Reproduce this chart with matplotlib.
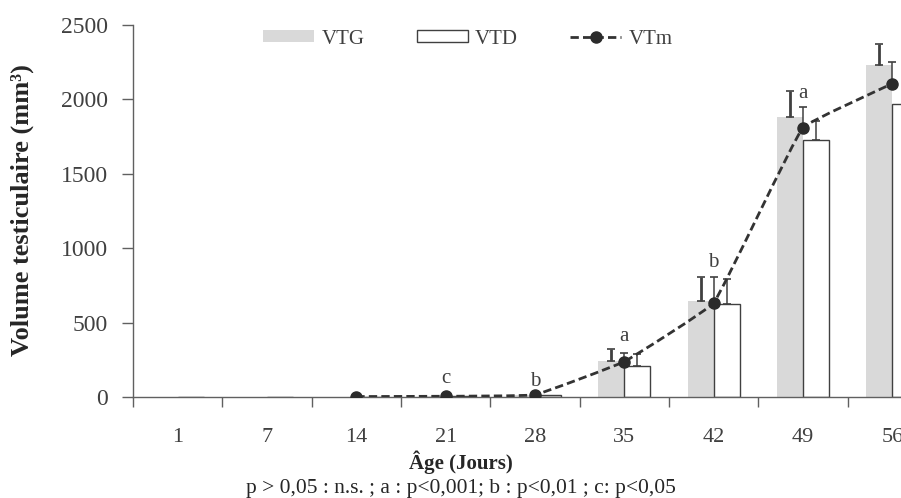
import numpy as np
import matplotlib
matplotlib.use("Agg")
import matplotlib.pyplot as plt
from matplotlib.path import Path
from matplotlib.patches import PathPatch, Patch
from matplotlib.lines import Line2D

plt.rcParams['font.family'] = ['Liberation Serif', 'DejaVu Serif']

# Age in days and testicular volumes (mm3)
days = ['1', '7', '14', '21', '28', '35', '42', '49', '56']
vtg = [0, 0, 2, 4, 12, 245, 648, 1884, 2234]
vtg_err = [np.nan, np.nan, np.nan, np.nan, np.nan, 78, 160, 175, 135]
vtd = [0, 0, 2, 4, 14, 208, 626, 1729, 1972]
vtd_err = [np.nan, np.nan, np.nan, np.nan, np.nan, 82, 168, 128, 130]
vtm = [np.nan, np.nan, 3, 5, 15, 238, 633, 1810, 2106]
vtm_err = [np.nan, np.nan, np.nan, np.nan, np.nan, 60, 174, 142, 142]
sig = ['', '', '', 'c', 'b', 'a', 'b', 'a', '']
sig_y = [0, 0, 0, 121, 101, 404, 901, 2039, 0]

grey_txt = '#404040'
W, H = 901, 498
fig = plt.figure(figsize=(W / 100, H / 100), dpi=100)
ax = fig.add_axes([133 / W, 101 / H, 804 / W, 372 / H])
ax.set_xlim(-0.5, 8.5)
ax.set_ylim(0, 2500)

x = np.arange(len(days))
bw = 0.29
ax.bar(x - bw / 2, vtg, bw, color='#d9d9d9', zorder=2)
ax.bar(x + bw / 2, vtd, bw, color='white', edgecolor='#404040', linewidth=1, zorder=2)


def up_err(xpos, yval, err, lw):
    xpos, yval, err = np.asarray(xpos, float), np.asarray(yval, float), np.asarray(err, float)
    m = ~np.isnan(err) & ~np.isnan(yval)
    ax.errorbar(xpos[m], yval[m], yerr=[np.zeros(m.sum()), err[m]], fmt='none', ecolor='#404040',
                elinewidth=lw, capsize=3, capthick=1.2, zorder=3)


up_err(x - bw / 2, vtg, vtg_err, 2)
up_err(x + bw / 2, vtd, vtd_err, 1.1)
up_err(x, vtm, vtm_err, 1.1)

# lightly smoothed dashed line, control points built in screen space
ok = ~np.isnan(np.array(vtm, dtype=float))
pts = np.column_stack([x[ok], np.array(vtm)[ok]]).astype(float)
disp = ax.transData.transform(pts)
ext = np.vstack([disp[0], disp, disp[-1]])
k = 0.08
verts = [disp[0]]
codes = [Path.MOVETO]
for i in range(len(disp) - 1):
    p0, p1, p2, p3 = ext[i], ext[i + 1], ext[i + 2], ext[i + 3]
    d = np.linalg.norm(p2 - p1)
    t1 = (p2 - p0) / np.linalg.norm(p2 - p0)
    t2 = (p3 - p1) / np.linalg.norm(p3 - p1)
    verts += [p1 + t1 * d * k, p2 - t2 * d * k, p2]
    codes += [Path.CURVE4] * 3
verts = ax.transData.inverted().transform(np.array(verts))
ax.add_patch(PathPatch(Path(verts, codes), fill=False, linestyle=(0, (3, 1.5)),
                       lw=2, edgecolor='#333333', zorder=4))
ax.plot(x[ok], np.array(vtm)[ok], 'o', color='#2b2b2b', ms=8, zorder=5)

for i, s in enumerate(sig):
    if s:
        ax.text(x[i], sig_y[i], s, ha='center', va='center', fontsize=15, color=grey_txt, zorder=6)

ax.set_yticks([0, 500, 1000, 1500, 2000, 2500])
ax.set_xticks(x)
ax.set_xticklabels(days)
ax.set_xticks(np.arange(-0.5, 9, 1), minor=True)
ax.tick_params(axis='x', which='major', length=0, pad=22, labelsize=16, labelcolor=grey_txt)
ax.tick_params(axis='x', which='minor', length=7, width=1, color='#606060', direction='out')
ax.tick_params(axis='y', length=8, width=1, color='#606060', pad=10, labelsize=17, labelcolor=grey_txt)
for sp in ['top', 'right']:
    ax.spines[sp].set_visible(False)
for sp in ['left', 'bottom']:
    ax.spines[sp].set_color('#606060')
    ax.spines[sp].set_linewidth(1)

handles = [Patch(facecolor='#d9d9d9', edgecolor='none', label='VTG'),
           Patch(facecolor='white', edgecolor='#404040', linewidth=1, label='VTD'),
           Line2D([], [], color='#333333', ls=(0, (3, 1.5)), lw=2, marker='o',
                  ms=8, mfc='#2b2b2b', mec='#2b2b2b', label='VTm')]
leg = fig.legend(handles=handles, loc='center', bbox_to_anchor=(468 / W, 1 - 39 / H), ncol=3,
                 frameon=False, fontsize=15, handlelength=2.45, handleheight=0.5,
                 handletextpad=0.35, columnspacing=2.5)
for t in leg.get_texts():
    t.set_color(grey_txt)

fig.text(22 / W, 1 - 210 / H, 'Volume testiculaire (mm³)', rotation=90, ha='center', va='center',
         fontsize=19, fontweight='bold', color='#262626')
fig.text(461 / W, 1 - 462 / H, 'Âge (Jours)', ha='center', va='center',
         fontsize=15, fontweight='bold', color='#262626')
fig.text(461 / W, 1 - 488 / H, 'p > 0,05 : n.s. ; a : p<0,001; b : p<0,01 ; c: p<0,05',
         ha='center', va='center', fontsize=15.5, color='#262626')

fig.savefig('out.png', dpi=100)
